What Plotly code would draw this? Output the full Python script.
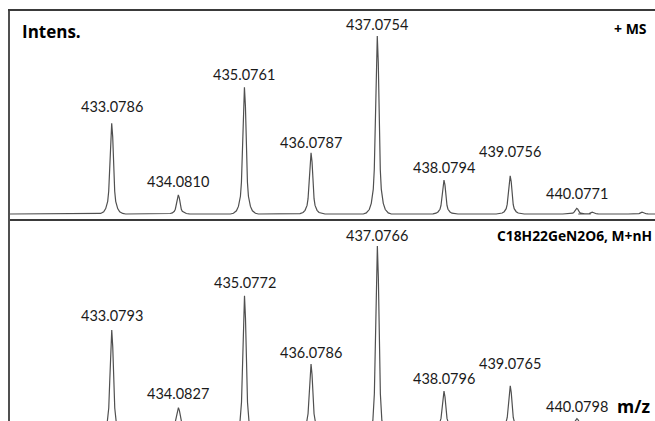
import plotly.graph_objects as go

# ---- data ----
obs_mz = [433.0786, 434.0810, 435.0761, 436.0787, 437.0754, 438.0794, 439.0756, 440.0771]
obs_int = [51.0, 10.7, 71.2, 34.4, 100.0, 19.1, 21.5, 3.2]
obs_minor_mz = [440.31, 441.06]
obs_minor_int = [1.0, 1.0]

sim_mz = [433.0793, 434.0827, 435.0772, 436.0786, 437.0766, 438.0796, 439.0765, 440.0798]
sim_int = [52.8, 9.2, 72.1, 33.7, 100.0, 18.5, 21.5, 3.0]

# ---- style constants (pixel values are page coordinates) ----
W, H = 655, 421
LEFT_PX, TOP_PX = 10, 11
ML, MT = LEFT_PX, TOP_PX
X0, X1 = 431.548, 441.255
PX = (X1 - X0) / (W - LEFT_PX)   # m/z per pixel

OBS_OFF = [-14, -11, -8, -6, -4, -3, -2, -1, 0, 1, 2, 3, 4, 6, 8, 11, 14]
OBS_FRAC = [0, 0.006, 0.025, 0.06, 0.14, 0.25, 0.5, 0.85, 1, 0.85, 0.5, 0.25, 0.14, 0.06, 0.025, 0.006, 0]
SIM_OFF = [-7, -4.5, -3, -2, -1, 0, 1, 2, 3, 4.5, 7]
SIM_FRAC = [0, 0.019, 0.17, 0.46, 0.82, 1, 0.82, 0.46, 0.17, 0.019, 0]

OBS_GAP = [10, 7, 6, 4, 5, 6, 18, 8]
SIM_GAP = [8, 7.5, 7, 5, 4, 6, 16, 6]

SEP_PX = 219
sep = (H - SEP_PX) / (H - TOP_PX)

LINE_COL = "#505050"
TXT_COL = "#1a1a1a"
FONT = "Lato"
HFONT = "Open Sans"


def profile(mzs, ints, off, frac):
    xs, ys = [X0], [0.0]
    for m, i in sorted(zip(mzs, ints)):
        for o, f in zip(off, frac):
            xs.append(m + o * PX)
            ys.append(i * f)
    xs.append(X1)
    ys.append(0.0)
    return xs, ys


ox, oy = profile(obs_mz + obs_minor_mz, obs_int + obs_minor_int, OBS_OFF, OBS_FRAC)
sx, sy = profile(sim_mz, sim_int, SIM_OFF, SIM_FRAC)

fig = go.Figure()
fig.add_trace(go.Scatter(x=ox, y=oy, mode="lines", line=dict(color=LINE_COL, width=1.2),
                         xaxis="x", yaxis="y", hoverinfo="skip"))
fig.add_trace(go.Scatter(x=sx, y=sy, mode="lines", line=dict(color=LINE_COL, width=1.2),
                         xaxis="x2", yaxis="y2", hoverinfo="skip"))

ann = []
for m, i, g in zip(obs_mz, obs_int, OBS_GAP):
    ann.append(dict(x=m, y=i, xref="x", yref="y", text=f"{m:.4f}", showarrow=False,
                    xanchor="center", yanchor="bottom", yshift=g - 4,
                    font=dict(family=FONT, size=14.5, color=TXT_COL)))
for m, i, g in zip(sim_mz, sim_int, SIM_GAP):
    ann.append(dict(x=m, y=i, xref="x2", yref="y2", text=f"{m:.4f}", showarrow=False,
                    xanchor="center", yanchor="bottom", yshift=g - 4,
                    font=dict(family=FONT, size=14.5, color=TXT_COL)))


def py(px):
    return (H - px) / (H - TOP_PX)


def pxx(px):
    return (px - LEFT_PX) / (W - LEFT_PX)


ann.append(dict(x=pxx(20), y=py(31), xref="paper", yref="paper", text="<b>Intens.</b>",
                showarrow=False, xanchor="left", yanchor="middle",
                font=dict(family=HFONT, size=17, color="#000")))
ann.append(dict(x=pxx(649), y=py(28), xref="paper", yref="paper", text="<b>+ MS</b>",
                showarrow=False, xanchor="right", yanchor="middle",
                font=dict(family=HFONT, size=14, color="#000")))
ann.append(dict(x=pxx(654), y=py(235), xref="paper", yref="paper", text="<b>C18H22GeN2O6, M+nH</b>",
                showarrow=False, xanchor="right", yanchor="middle",
                font=dict(family=HFONT, size=13.8, color="#000")))
ann.append(dict(x=pxx(652), y=py(406), xref="paper", yref="paper", text="<b>m/z</b>",
                showarrow=False, xanchor="right", yanchor="middle",
                font=dict(family=HFONT, size=17.5, color="#000")))

top_lo = -(SEP_PX - 214) * 100 / 178
top_hi = (214 - TOP_PX) * 100 / 178
bot_lo = (424 - H) * 100 / 178
bot_hi = (424 - SEP_PX) * 100 / 178

fig.update_layout(
    width=W, height=H,
    margin=dict(l=ML, r=0, t=MT, b=0),
    paper_bgcolor="white", plot_bgcolor="white",
    showlegend=False,
    xaxis=dict(range=[X0, X1], anchor="y", showgrid=False, zeroline=False,
               showticklabels=False, ticks="", showline=True, linecolor="#3a3a3a",
               linewidth=2, mirror=True),
    yaxis=dict(range=[top_lo, top_hi], domain=[sep, 1], anchor="x", showgrid=False,
               zeroline=False, showticklabels=False, ticks="", showline=True,
               linecolor="#505050", linewidth=1.5),
    xaxis2=dict(range=[X0, X1], anchor="y2", matches="x", showgrid=False, zeroline=False,
                showticklabels=False, ticks="", showline=False),
    yaxis2=dict(range=[bot_lo, bot_hi], domain=[0, sep], anchor="x2", showgrid=False,
                zeroline=False, showticklabels=False, ticks="", showline=True,
                linecolor="#505050", linewidth=1.5),
    annotations=ann,
)

fig.write_html("out.html", config={"displayModeBar": False},
               post_script="document.body.style.margin='0';document.body.style.overflow='hidden';")
